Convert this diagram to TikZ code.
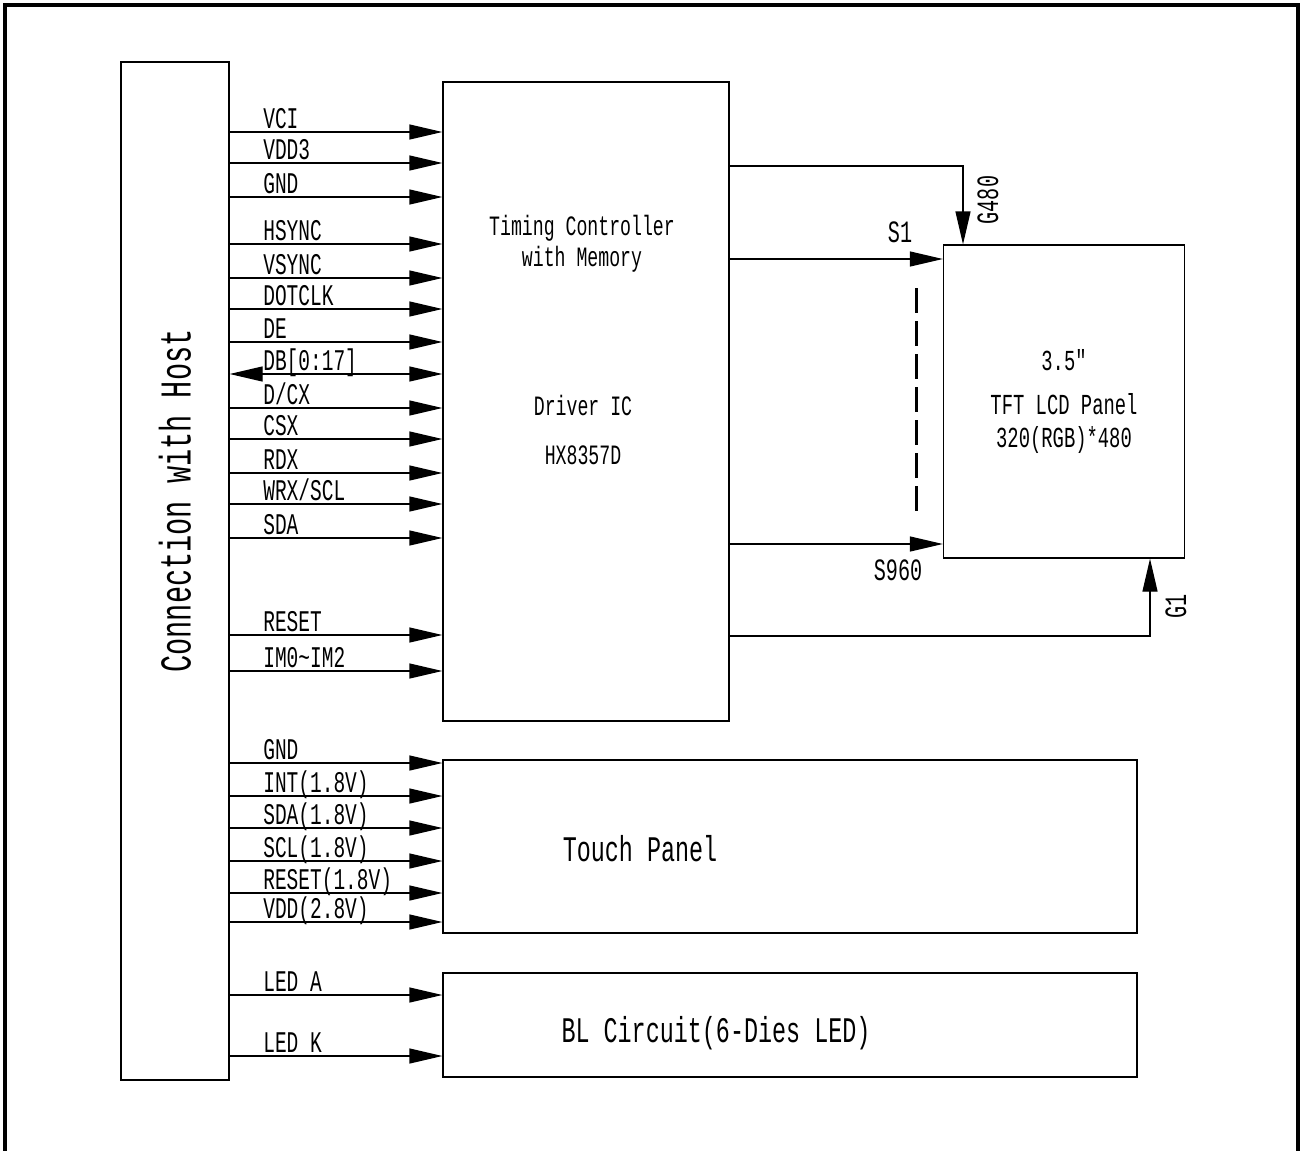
\documentclass[tikz,border=0pt]{standalone}
\usepackage{fontspec}
\newfontfamily\simfont{Liberation Mono}[FakeStretch=0.65]
\newcommand{\simsize}[1]{\simfont\fontsize{#1}{#1}\selectfont}
\usetikzlibrary{arrows.meta}
\tikzset{
  blk/.style={draw, rectangle, line width=1.3pt, inner sep=0pt},
  txt/.style={inner sep=0pt, align=center},
  sig/.style={line width=1.3pt, -{Triangle[length=33pt,width=15pt]}},
  dsig/.style={line width=1.3pt, {Triangle[length=33pt,width=15pt]}-{Triangle[length=33pt,width=15pt]}},
  lbl/.style={pos=0, anchor=base west, xshift=33pt, yshift=4pt, inner sep=0pt, font=\simsize{30}},
}
\begin{document}
\begin{tikzpicture}[x=1pt,y=-1pt]
\useasboundingbox (0,0) rectangle (1301,1151);
\draw[line width=4pt] (4.5,1170) -- (4.5,5) -- (1298,5) -- (1298,1170);
% blocks
\node[blk, minimum width=108pt, minimum height=1018pt] (host) at (175,571) {};
\node[txt, rotate=90, font=\simsize{44}] (hosttxt) at (175,501) {Connection with Host};
\node[blk, minimum width=286pt, minimum height=639pt] (ic) at (586,401.5) {};
\node[txt, font=\simsize{28}] (tcon) at (582,244) {Timing Controller\\[3pt]with Memory};
\node[txt, font=\simsize{28}] (drv) at (583,405) {Driver IC};
\node[txt, font=\simsize{28}] (hx) at (583,455) {HX8357D};
\node[blk, minimum width=241pt, minimum height=313pt, align=center, font=\simsize{29}] (lcd) at (1064,401.5) {3.5″\\[15pt]TFT LCD Panel\\[4pt]320(RGB)*480};
\node[blk, minimum width=694pt, minimum height=173pt] (tp) at (790,846.5) {};
\node[txt, font=\simsize{36}] (tptxt) at (640,849) {Touch Panel};
\node[blk, minimum width=694pt, minimum height=104pt] (bl) at (790,1025) {};
\node[txt, font=\simsize{36}] (bltxt) at (716,1033) {BL Circuit(6-Dies LED)};
% host to driver IC
\draw[sig] (host.east |- 0,132) -- node[lbl] {VCI} (ic.west |- 0,132);
\draw[sig] (host.east |- 0,163) -- node[lbl] {VDD3} (ic.west |- 0,163);
\draw[sig] (host.east |- 0,197) -- node[lbl] {GND} (ic.west |- 0,197);
\draw[sig] (host.east |- 0,244) -- node[lbl] {HSYNC} (ic.west |- 0,244);
\draw[sig] (host.east |- 0,278) -- node[lbl] {VSYNC} (ic.west |- 0,278);
\draw[sig] (host.east |- 0,309) -- node[lbl] {DOTCLK} (ic.west |- 0,309);
\draw[sig] (host.east |- 0,342) -- node[lbl] {DE} (ic.west |- 0,342);
\draw[dsig] (host.east |- 0,374) -- node[lbl] {DB[0:17]} (ic.west |- 0,374);
\draw[sig] (host.east |- 0,408) -- node[lbl] {D/CX} (ic.west |- 0,408);
\draw[sig] (host.east |- 0,439) -- node[lbl] {CSX} (ic.west |- 0,439);
\draw[sig] (host.east |- 0,473) -- node[lbl] {RDX} (ic.west |- 0,473);
\draw[sig] (host.east |- 0,504) -- node[lbl] {WRX/SCL} (ic.west |- 0,504);
\draw[sig] (host.east |- 0,538) -- node[lbl] {SDA} (ic.west |- 0,538);
\draw[sig] (host.east |- 0,635) -- node[lbl] {RESET} (ic.west |- 0,635);
\draw[sig] (host.east |- 0,671) -- node[lbl] {IM0\textasciitilde IM2} (ic.west |- 0,671);
% host to touch panel
\draw[sig] (host.east |- 0,763) -- node[lbl] {GND} (tp.west |- 0,763);
\draw[sig] (host.east |- 0,796) -- node[lbl] {INT(1.8V)} (tp.west |- 0,796);
\draw[sig] (host.east |- 0,828) -- node[lbl] {SDA(1.8V)} (tp.west |- 0,828);
\draw[sig] (host.east |- 0,861) -- node[lbl] {SCL(1.8V)} (tp.west |- 0,861);
\draw[sig] (host.east |- 0,893) -- node[lbl] {RESET(1.8V)} (tp.west |- 0,893);
\draw[sig] (host.east |- 0,922) -- node[lbl] {VDD(2.8V)} (tp.west |- 0,922);
% host to backlight
\draw[sig] (host.east |- 0,995) -- node[lbl] {LED A} (bl.west |- 0,995);
\draw[sig] (host.east |- 0,1056) -- node[lbl] {LED K} (bl.west |- 0,1056);
% driver IC to panel
\draw[sig] (ic.east |- 0,166) -| (lcd.north -| 963,0);
\draw[sig] (ic.east |- 0,259) -- (lcd.west |- 0,259);
\draw[sig] (ic.east |- 0,544) -- (lcd.west |- 0,544);
\draw[sig] (ic.east |- 0,636) -| (lcd.south -| 1150,0);
\draw[line width=3pt, dash pattern=on 25pt off 8pt] (916,288) -- (916,515);
\node[txt, font=\simsize{31}] (s1) at (900,232) {S1};
\node[txt, font=\simsize{31}] (s960) at (898,570) {S960};
\node[txt, rotate=90, font=\simsize{31}] (g480) at (988,200) {G480};
\node[txt, rotate=90, font=\simsize{31}] (g1) at (1176,606) {G1};
\end{tikzpicture}
\end{document}
